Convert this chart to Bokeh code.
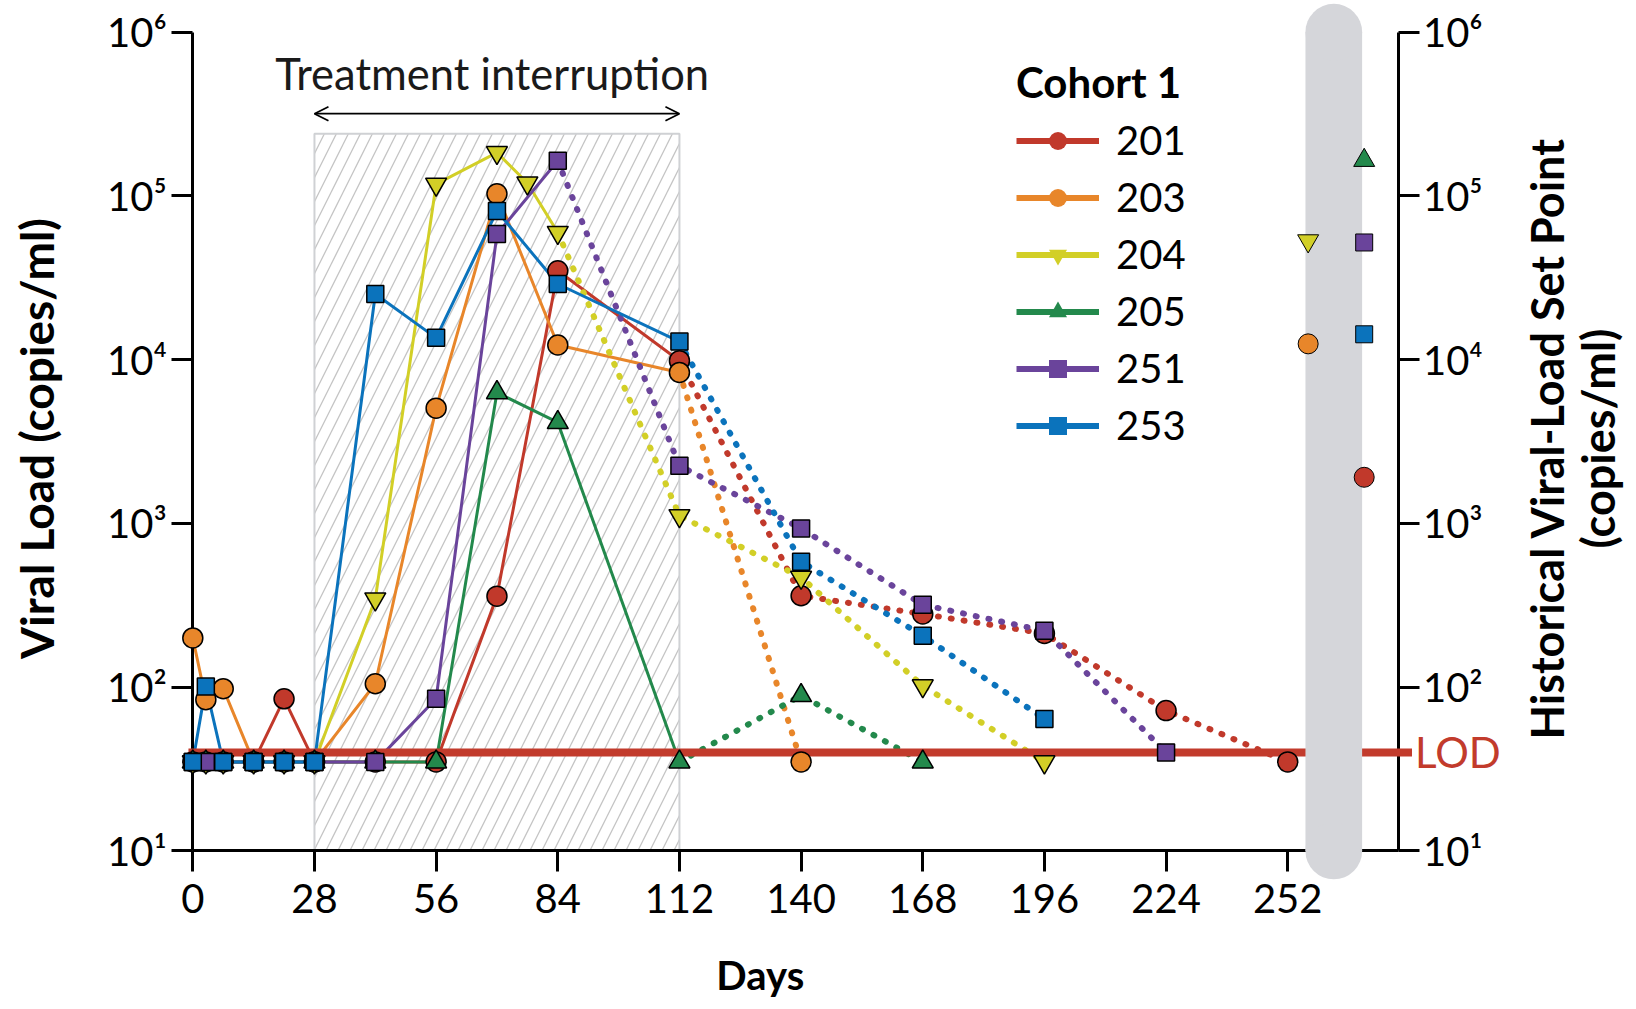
import math
from bokeh.plotting import figure
from bokeh.models import (Range1d, LogAxis, FixedTicker, CustomJSTickFormatter,
                          Label, Legend, LegendItem, Arrow, OpenHead)
from bokeh.embed import file_html
from bokeh.resources import INLINE

# ---- data: viral load (copies/ml) by study day for each participant ----
patients = ["201", "203", "204", "205", "251", "253"]

days_201 = [0, 3, 7, 14, 21, 28, 42, 56, 70, 84, 112, 140, 168, 196, 224, 252]
load_201 = [35, 35, 35, 35, 85, 35, 35, 35, 360, 34900, 9860, 362, 280, 213, 72, 35]

days_203 = [0, 3, 7, 14, 21, 28, 42, 56, 70, 84, 112, 140]
load_203 = [200, 84, 98, 35, 35, 35, 105, 5060, 103000, 12300, 8360, 35]

days_204 = [0, 3, 7, 14, 21, 28, 42, 56, 70, 77, 84, 112, 140, 168, 196]
load_204 = [35, 35, 35, 35, 35, 35, 346, 118000, 184000, 120000, 59800, 1115, 469, 102, 35]

days_205 = [0, 3, 7, 14, 21, 28, 42, 56, 70, 84, 112, 140, 168]
load_205 = [35, 35, 35, 35, 35, 35, 35, 35, 6300, 4140, 35, 89, 35]

days_251 = [0, 3, 7, 14, 21, 28, 42, 56, 70, 84, 112, 140, 168, 196, 224]
load_251 = [35, 35, 35, 35, 35, 35, 35, 85, 58500, 164000, 2250, 933, 319, 221, 40]

days_253 = [0, 3, 7, 14, 21, 28, 42, 56, 70, 84, 112, 140, 168, 196]
load_253 = [35, 101, 35, 35, 35, 35, 25200, 13600, 81000, 29000, 12900, 584, 206, 64]

# first day of each participant's follow-up (dotted) segment
dotted_from = [112, 112, 84, 112, 84, 112]

# historical viral-load set points, drawn in two columns beside the grey band
setpoint_load = [1915, 12500, 53200, 165000, 52000, 14300]
setpoint_x = [269.6, 256.7, 256.7, 269.6, 269.6, 269.6]

lod = 40                      # limit of detection, copies/ml
interruption = (28, 112)      # treatment interruption window, days
day_ticks = [0, 28, 56, 84, 112, 140, 168, 196, 224, 252]
decades = [1e1, 1e2, 1e3, 1e4, 1e5, 1e6]

days = [days_201, days_203, days_204, days_205, days_251, days_253]
loads = [load_201, load_203, load_204, load_205, load_251, load_253]
colors = ["#c1392b", "#e8862a", "#d2cf27", "#23894c", "#6a449b", "#0b73bc"]
markers = ["circle", "circle", "inverted_triangle", "triangle", "square", "square"]
msizes = [20, 20, 21, 21, 17, 17]
lod_red = "#c23b2c"
band_grey = "#d5d6da"
FONT = "Lato"

p = figure(width=1636, height=1009,
           x_range=Range1d(-44.26, 332.27),
           y_range=Range1d(10 ** 0.0321, 10 ** 6.1936),
           y_axis_type="log", output_backend="svg", toolbar_location=None,
           min_border=0, outline_line_color=None,
           background_fill_color="white", border_fill_color="white")
p.xgrid.visible = False
p.ygrid.visible = False

sup_fmt = CustomJSTickFormatter(code=r"""
const sup = ["\u2070", "\u00b9", "\u00b2", "\u00b3", "\u2074", "\u2075", "\u2076", "\u2077", "\u2078", "\u2079"];
return "10" + sup[Math.round(Math.log10(tick))];
""")


def style_axis(ax, standoff):
    ax.axis_line_width = 3
    ax.axis_line_color = "black"
    ax.major_tick_line_width = 3
    ax.major_tick_line_color = "black"
    ax.major_tick_in = 0
    ax.major_tick_out = 21
    ax.minor_tick_in = 0
    ax.minor_tick_out = 0
    ax.major_label_text_font = FONT
    ax.major_label_text_font_size = "40px"
    ax.major_label_text_color = "black"
    ax.major_label_standoff = standoff


left = p.yaxis[0]
left.fixed_location = 0
left.bounds = (decades[0], decades[-1])
left.ticker = FixedTicker(ticks=decades, minor_ticks=[])
left.formatter = sup_fmt
style_axis(left, 5)

bottom = p.xaxis[0]
bottom.fixed_location = decades[0]
bottom.bounds = (0, 277.6)
bottom.ticker = FixedTicker(ticks=day_ticks, minor_ticks=[])
style_axis(bottom, 12)

right = LogAxis(fixed_location=277.6, bounds=(decades[0], decades[-1]),
                ticker=FixedTicker(ticks=decades, minor_ticks=[]), formatter=sup_fmt)
style_axis(right, 3)
p.add_layout(right, "right")

# hatched treatment-interruption window
p.quad(left=[interruption[0]], right=[interruption[1]], bottom=[decades[0]], top=[2.4e5],
       fill_color=None, line_color="#cfd1d4", line_width=2,
       hatch_pattern="/", hatch_color="#c4c4c4", hatch_weight=1.3, hatch_scale=24,
       level="underlay")

p.add_layout(Arrow(start=OpenHead(size=14, line_width=1.8), end=OpenHead(size=14, line_width=1.8),
                   x_start=interruption[0], x_end=interruption[1],
                   y_start=3.18e5, y_end=3.18e5, line_width=1.8, line_color="black"))
p.add_layout(Label(x=68.9, y=10 ** 5.750, text="Treatment interruption",
                   text_align="center", text_baseline="alphabetic",
                   text_font=FONT, text_font_size="43.5px", text_color="#1a1a1a"))

# solid lines during the study, dotted lines during follow-up
for d, v, c, split in zip(days, loads, colors, dotted_from):
    k = d.index(split)
    p.line(d[:k + 1], v[:k + 1], line_color=c, line_width=3)
    p.line(d[k:], v[k:], line_color=c, line_width=6, line_dash="1 12", line_cap="round")

# limit of detection
p.line([-1, 280.6], [lod, lod], line_color=lod_red, line_width=8, level="annotation")
p.add_layout(Label(x=281.3, y=lod, text="LOD", text_align="left", text_baseline="middle",
                   text_font=FONT, text_font_size="42px", text_color=lod_red))

# grey capsule behind the historical set points
band_mid = 262.6
p.quad(left=[band_mid - 6.52], right=[band_mid + 6.52], bottom=[decades[0]], top=[decades[-1]],
       fill_color=band_grey, line_color=None, level="annotation")
p.scatter([band_mid, band_mid], [decades[0], decades[-1]], marker="circle", size=56.7,
          fill_color=band_grey, line_color=None, level="annotation")

# measured points
for d, v, c, m, s in zip(days, loads, colors, markers, msizes):
    p.scatter(d, v, marker=m, size=s, fill_color=c, line_color="black", line_width=1.5,
              level="overlay")

# historical set points
for x, v, c, m, s in zip(setpoint_x, setpoint_load, colors, markers, msizes):
    p.scatter([x], [v], marker=m, size=s, fill_color=c, line_color="black", line_width=1,
              level="overlay")

# legend built from off-canvas proxies so its glyphs can be styled on their own
items = []
nan = float("nan")
for pid, c, m in zip(patients, colors, markers):
    lr = p.line([nan], [nan], line_color=c, line_width=6)
    sr = p.scatter([nan], [nan], marker=m, fill_color=c, line_color=None)
    items.append(LegendItem(label=pid, renderers=[lr, sr]))

legend = Legend(items=items, title="Cohort 1", location=(1016, 560),
                title_text_font=FONT, title_text_font_style="bold", title_text_font_size="42px",
                title_text_color="black", title_standoff=9,
                label_text_font=FONT, label_text_font_size="40px", label_text_color="black",
                glyph_width=83, glyph_height=45, label_height=45, spacing=9,
                label_standoff=17, padding=0, margin=0,
                border_line_color=None, background_fill_alpha=0)
p.add_layout(legend)

# axis titles
p.add_layout(Label(x=-35.86, y=10 ** 3.519, text="Viral Load (copies/ml)", angle=math.pi / 2,
                   text_align="center", text_baseline="middle", text_color="black",
                   text_font=FONT, text_font_style="bold", text_font_size="46px"))
p.add_layout(Label(x=130.6, y=10 ** 0.244, text="Days", text_align="center",
                   text_baseline="alphabetic", text_color="black",
                   text_font=FONT, text_font_style="bold", text_font_size="40px"))
p.add_layout(Label(x=311.7, y=10 ** 3.519, text="Historical Viral-Load Set Point",
                   angle=math.pi / 2, text_align="center", text_baseline="middle",
                   text_color="black",
                   text_font=FONT, text_font_style="bold", text_font_size="45px"))
p.add_layout(Label(x=323.4, y=10 ** 3.519, text="(copies/ml)",
                   angle=math.pi / 2, text_align="center", text_baseline="middle",
                   text_color="black",
                   text_font=FONT, text_font_style="bold", text_font_size="45px"))

open("out.html", "w", encoding="utf-8").write(file_html(p, INLINE))
